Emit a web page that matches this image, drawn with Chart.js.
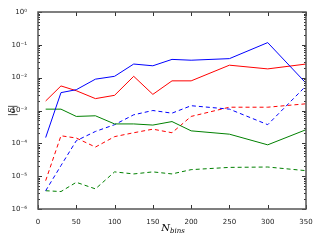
<!DOCTYPE html>
<html>
<head>
<meta charset="utf-8">
<script src="https://cdn.jsdelivr.net/npm/chart.js@4"></script>
<style>
  html, body { margin: 0; padding: 0; background: #fff; }
  #wrap { width: 320px; height: 240px; }
</style>
</head>
<body>
<div id="wrap"><canvas id="deltaChart" width="320" height="240"></canvas></div>
<script>
// x values (number of bins)
const nBins = [10, 30, 50, 75, 100, 125, 150, 175, 200, 250, 300, 350];

// |delta| for each curve
const blueSolid   = [1.5e-4, 3.5e-3, 4.3e-3, 9e-3, 1.1e-2, 2.6e-2, 2.3e-2, 3.6e-2, 3.4e-2, 3.8e-2, 1.17e-1, 6.8e-3];
const redSolid    = [1.95e-3, 5.6e-3, 4.0e-3, 2.3e-3, 2.9e-3, 1.1e-2, 3.1e-3, 8e-3, 8e-3, 2.4e-2, 1.85e-2, 2.6e-2];
const greenSolid  = [1.1e-3, 1.1e-3, 6.6e-4, 6.9e-4, 3.9e-4, 3.9e-4, 3.6e-4, 4.6e-4, 2.4e-4, 1.9e-4, 9e-5, 2.6e-4];
const blueDashed  = [3.6e-6, 2.1e-5, 1.2e-4, 2.3e-4, 3.7e-4, 7.4e-4, 1.0e-3, 8.3e-4, 1.4e-3, 1.1e-3, 3.7e-4, 5.6e-3];
const redDashed   = [7.3e-6, 1.7e-4, 1.45e-4, 7.7e-5, 1.6e-4, 2.1e-4, 2.7e-4, 2.1e-4, 6.6e-4, 1.26e-3, 1.26e-3, 1.6e-3];
const greenDashed = [3.6e-6, 3.4e-6, 6.5e-6, 4.1e-6, 1.35e-5, 1.17e-5, 1.35e-5, 1.17e-5, 1.58e-5, 1.85e-5, 1.9e-5, 1.47e-5];

// tick labels
const xTicks = [0, 50, 100, 150, 200, 250, 300, 350];
const yTickLabels = {'-6': '10⁻⁶', '-5': '10⁻⁵', '-4': '10⁻⁴', '-3': '10⁻³', '-2': '10⁻²', '-1': '10⁻¹', '0': '10⁰'};

function series(vals, color, dashed) {
    return {
        data: nBins.map((x, i) => ({x: x, y: vals[i]})),
        borderColor: color,
        borderWidth: 1,
        borderDash: dashed ? [4, 3] : [],
        pointRadius: 0,
        fill: false,
        tension: 0
    };
}

// frame, inside ticks and axis titles
const framePlugin = {
    id: 'frame',
    afterDraw(chart) {
        const ctx = chart.ctx;
        const a = chart.chartArea;
        const xs = chart.scales.x, ys = chart.scales.y;
        ctx.save();
        ctx.strokeStyle = '#333';
        ctx.lineWidth = 1;
        ctx.beginPath();
        xTicks.forEach(v => {
            const px = Math.round(xs.getPixelForValue(v)) + 0.5;
            ctx.moveTo(px, a.bottom); ctx.lineTo(px, a.bottom - 4);
            ctx.moveTo(px, a.top); ctx.lineTo(px, a.top + 4);
        });
        for (let e = -6; e <= 0; e++) {
            for (let m = 1; m <= 9; m++) {
                const v = m * Math.pow(10, e);
                if (v > 1) break;
                const len = m === 1 ? 4 : 2;
                const py = Math.round(ys.getPixelForValue(v)) + 0.5;
                ctx.moveTo(a.left, py); ctx.lineTo(a.left + len, py);
                ctx.moveTo(a.right, py); ctx.lineTo(a.right - len, py);
            }
        }
        ctx.stroke();
        ctx.strokeStyle = '#555';
        ctx.lineWidth = 1.5;
        ctx.strokeRect(a.left, a.top, a.right - a.left, a.bottom - a.top);

        // x title: N_bins
        ctx.fillStyle = '#000';
        ctx.textBaseline = 'alphabetic';
        ctx.font = 'italic 10px "DejaVu Serif"';
        const cx = (a.left + a.right) / 2 + 1;
        const nW = ctx.measureText('N').width;
        ctx.font = 'italic 7px "DejaVu Serif"';
        const bW = ctx.measureText('bins').width;
        const x0 = cx - (nW + bW) / 2;
        ctx.font = 'italic 10px "DejaVu Serif"';
        ctx.fillText('N', x0, 231);
        ctx.font = 'italic 7px "DejaVu Serif"';
        ctx.fillText('bins', x0 + nW, 233);

        // y title: |delta|
        ctx.translate(15, (a.top + a.bottom) / 2);
        ctx.rotate(-Math.PI / 2);
        ctx.textAlign = 'center';
        ctx.font = 'italic 9px "DejaVu Serif"';
        ctx.fillText('|δ|', 0, 0);
        ctx.restore();
    }
};

const ctx = document.getElementById('deltaChart').getContext('2d');

let deltaChart = new Chart(ctx, {
    type: 'line',
    data: {
        datasets: [
            series(blueSolid, '#0000ff', false),
            series(redSolid, '#ff0000', false),
            series(greenSolid, '#008000', false),
            series(blueDashed, '#0000ff', true),
            series(redDashed, '#ff0000', true),
            series(greenDashed, '#008000', true)
        ]
    },
    options: {
        responsive: false,
        animation: false,
        layout: { padding: { top: 12, right: 14, left: 0, bottom: 0 } },
        plugins: {
            legend: { display: false },
            tooltip: { enabled: false }
        },
        scales: {
            x: {
                type: 'linear',
                min: 0,
                max: 350,
                grid: { display: false },
                border: { display: false },
                afterBuildTicks: scale => { scale.ticks = xTicks.map(v => ({value: v})); },
                afterFit: scale => { scale.height = 31; },
                ticks: {
                    padding: 1,
                    color: '#222',
                    font: { family: 'DejaVu Sans', size: 7 },
                    maxRotation: 0
                }
            },
            y: {
                type: 'logarithmic',
                min: 1e-6,
                max: 1,
                grid: { display: false },
                border: { display: false },
                afterBuildTicks: scale => {
                    scale.ticks = Object.keys(yTickLabels).map(e => ({value: Math.pow(10, +e)}));
                },
                afterFit: scale => { scale.width = 38; },
                ticks: {
                    padding: 3,
                    color: '#222',
                    autoSkip: false,
                    font: { family: 'DejaVu Sans', size: 7 },
                    callback: v => yTickLabels[String(Math.round(Math.log10(v)))]
                }
            }
        }
    },
    plugins: [framePlugin]
});
</script>
</body>
</html>
